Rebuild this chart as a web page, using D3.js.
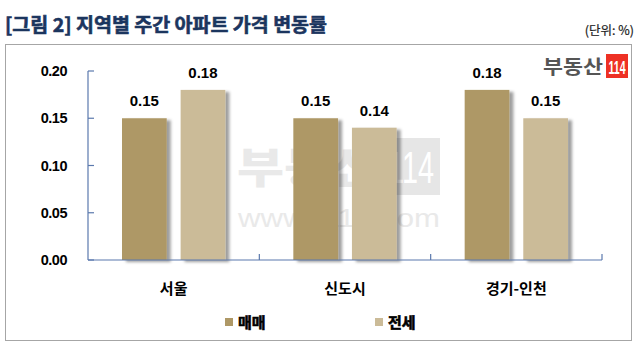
<!DOCTYPE html>
<html><head><meta charset="utf-8">
<script src="https://cdn.jsdelivr.net/npm/d3@7"></script>
<style>body{margin:0;background:#fff}svg{display:block}</style>
</head><body>
<svg id="c" width="640" height="356"></svg>
<script>
const categories = ["서울", "신도시", "경기-인천"];
const seriesNames = ["매매", "전세"];
const saleValues = [0.15, 0.15, 0.18];
const jeonseValues = [0.18, 0.14, 0.15];
const yTicks = [0.00, 0.05, 0.10, 0.15, 0.20];
const colors = ["#ae9866", "#cbbb98"];

const svg = d3.select("#c");
const defs = svg.append("defs");
const f = defs.append("filter").attr("id","sh").attr("x","-20%").attr("y","-20%").attr("width","150%").attr("height","140%");
f.append("feDropShadow").attr("dx",4).attr("dy",2).attr("stdDeviation",1.6).attr("flood-color","#000").attr("flood-opacity",0.38);

// title
svg.append("text").attr("x",5).attr("y",32).attr("font-family","Noto Sans CJK KR").attr("font-weight","bold")
  .attr("font-size",19).attr("fill","#1b355e").attr("stroke","#1b355e").attr("stroke-width",0.6)
  .attr("textLength",322).attr("lengthAdjust","spacingAndGlyphs").text("[그림 2] 지역별 주간 아파트 가격 변동률");
svg.append("text").attr("x",634).attr("y",35).attr("text-anchor","end").attr("font-family","Noto Sans CJK KR")
  .attr("font-size",12.5).attr("fill","#222").attr("stroke","#222").attr("stroke-width",0.2).text("(단위: %)");

// frame
svg.append("rect").attr("x",5.5).attr("y",44.5).attr("width",626).attr("height",296).attr("fill","#fff").attr("stroke","#a6a6a6").attr("stroke-width",1);

// watermark
const wm = svg.append("g").attr("fill","#e9e9e9");
wm.append("text").attr("x",237).attr("y",183).attr("font-family","Noto Sans CJK KR").attr("font-weight",900).attr("font-size",42)
  .attr("textLength",141).attr("lengthAdjust","spacingAndGlyphs").text("부동산");
wm.append("rect").attr("x",382).attr("y",138).attr("width",58).attr("height",57).attr("fill","#e6e6e6");
svg.append("text").attr("x",411).attr("y",183).attr("text-anchor","middle").attr("font-family","Liberation Sans").attr("font-size",44)
  .attr("fill","#fff").attr("textLength",46).attr("lengthAdjust","spacingAndGlyphs").text("114");
wm.append("text").attr("x",238).attr("y",227).attr("font-family","Liberation Sans").attr("font-size",26)
  .attr("textLength",202).attr("lengthAdjust","spacingAndGlyphs").text("www.r114.com");

// logo
svg.append("text").attr("x",543).attr("y",74).attr("font-family","Noto Sans CJK KR").attr("font-weight","bold").attr("font-size",19)
  .attr("fill","#555").attr("textLength",60).attr("lengthAdjust","spacingAndGlyphs").text("부동산");
svg.append("rect").attr("x",606).attr("y",54).attr("width",22).attr("height",24).attr("fill","#ee3124");
svg.append("text").attr("x",617).attr("y",74).attr("text-anchor","middle").attr("font-family","Liberation Sans").attr("font-weight","bold")
  .attr("font-size",19).attr("fill","#fff").attr("textLength",17).attr("lengthAdjust","spacingAndGlyphs").text("114");

const x0 = d3.scaleBand().domain(categories).range([88, 602]).paddingInner(0).paddingOuter(0);
const x1 = d3.scaleBand().domain(seriesNames).range([0, x0.bandwidth()]).paddingInner(0.237).paddingOuter(0.58);
const y = d3.scaleLinear().domain([0, 0.20]).range([260, 71]);

const axisColor = "#5b79ad";
// y axis
const ya = svg.append("g").attr("transform","translate(88,0)");
ya.append("line").attr("x1",0).attr("x2",0).attr("y1",y(0.20)).attr("y2",y(0)).attr("stroke",axisColor).attr("stroke-width",1.2);
ya.selectAll(".t").data(yTicks).enter().append("line").attr("x1",0).attr("x2",6).attr("y1",d=>y(d)).attr("y2",d=>y(d)).attr("stroke",axisColor).attr("stroke-width",1.2);
svg.selectAll(".yl").data(yTicks).enter().append("text").attr("x",67).attr("y",d=>y(d)+5)
  .attr("text-anchor","end").attr("font-family","Liberation Sans").attr("font-weight","bold").attr("font-size",14.5)
  .attr("letter-spacing",-0.5).attr("fill","#000").text(d=>d3.format(".2f")(d));

// bars
const data = categories.map((c,i)=>({cat:c, vals:[saleValues[i], jeonseValues[i]]}));
const g = svg.selectAll(".grp").data(data).enter().append("g").attr("transform",d=>`translate(${x0(d.cat)},0)`);
g.selectAll("rect").data(d=>d.vals.map((v,j)=>({s:seriesNames[j],v,j}))).enter().append("rect")
  .attr("x",d=>x1(d.s)).attr("width",x1.bandwidth()).attr("y",d=>y(d.v)).attr("height",d=>y(0)-y(d.v))
  .attr("fill",d=>colors[d.j]).attr("filter","url(#sh)");
g.selectAll("text").data(d=>d.vals.map((v,j)=>({s:seriesNames[j],v,j}))).enter().append("text")
  .attr("x",d=>x1(d.s)+x1.bandwidth()/2).attr("y",d=>y(d.v)-12).attr("text-anchor","middle")
  .attr("font-family","Liberation Sans").attr("font-weight","bold").attr("font-size",15).attr("fill","#000")
  .text(d=>d3.format(".2f")(d.v));

// x axis
svg.append("line").attr("x1",88).attr("x2",602).attr("y1",260).attr("y2",260).attr("stroke",axisColor).attr("stroke-width",1.2);
const bounds = categories.map(c=>x0(c)+x0.bandwidth());
svg.selectAll(".xt").data(bounds).enter().append("line").attr("x1",d=>d).attr("x2",d=>d).attr("y1",254).attr("y2",260)
  .attr("stroke",axisColor).attr("stroke-width",1.2);
svg.selectAll(".xl").data(categories).enter().append("text").attr("x",d=>x0(d)+x0.bandwidth()/2).attr("y",294)
  .attr("text-anchor","middle").attr("font-family","Noto Sans CJK KR").attr("font-weight","bold").attr("font-size",15)
  .attr("fill","#000").text(d=>d);

// legend
const legX = [225, 375];
const lg = svg.selectAll(".lg").data(seriesNames).enter().append("g").attr("transform",(d,i)=>`translate(${legX[i]},318)`);
lg.append("rect").attr("width",8).attr("height",8).attr("fill",(d,i)=>colors[i]);
lg.append("text").attr("x",13).attr("y",9.5).attr("font-family","Noto Sans CJK KR").attr("font-weight","bold").attr("font-size",15)
  .attr("fill","#000").attr("stroke","#000").attr("stroke-width",0.6).text(d=>d);
</script>
</body></html>
